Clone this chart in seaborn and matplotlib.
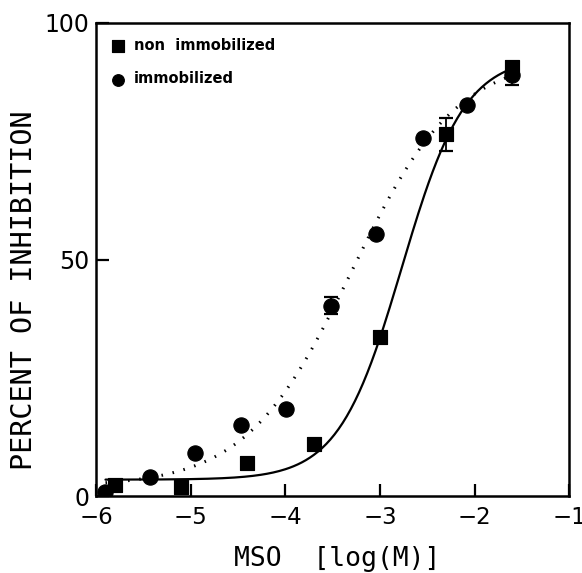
import numpy as np
import pandas as pd
import seaborn as sns
import matplotlib.pyplot as plt

# log concentrations of MSO and percent inhibition
x_non = [-5.8, -5.1, -4.4, -3.7, -3.0, -2.3, -1.6]
y_non = [2.3, 1.9, 7.0, 11.0, 33.6, 76.5, 90.7]
err_non = [0, 0, 0, 0, 0, 3.5, 0.8]

x_imm = [-5.9, -5.43, -4.95, -4.47, -3.99, -3.52, -3.04, -2.55, -2.08, -1.6]
y_imm = [0.8, 4.0, 9.1, 15.0, 18.4, 40.2, 55.4, 75.6, 82.7, 89.0]
err_imm = [0, 0, 0, 0, 0, 1.8, 0, 0, 0, 2.1]

# fitted sigmoid parameters (bottom, top, log IC50, hill slope)
fit_non = (3.5, 93.0, -2.77, 1.3)
fit_imm = (2.0, 93.0, -3.30, 0.78)


def sigmoid(x, p):
    b, t, c, h = p
    return b + (t - b) / (1 + 10 ** ((c - x) * h))


sns.set_theme(style="ticks")
plt.rcParams['font.family'] = ['DejaVu Sans']
plt.rcParams['text.color'] = 'black'
plt.rcParams['axes.labelcolor'] = 'black'
plt.rcParams['xtick.color'] = 'black'
plt.rcParams['ytick.color'] = 'black'

fig = plt.figure(figsize=(5.82, 5.73), dpi=100)
ax = fig.add_axes([0.165, 0.134, 0.813, 0.826])

xs = np.linspace(-5.9, -1.6, 200)
fits = pd.DataFrame({
    'x': np.concatenate([xs, xs]),
    'y': np.concatenate([sigmoid(xs, fit_non), sigmoid(xs, fit_imm)]),
    'group': ['non'] * len(xs) + ['imm'] * len(xs),
})
sns.lineplot(data=fits[fits.group == 'non'], x='x', y='y', ax=ax,
             color='black', lw=1.6, legend=False)
sns.lineplot(data=fits[fits.group == 'imm'], x='x', y='y', ax=ax,
             color='black', lw=2.2, ls=(0, (0.5, 3.2)), legend=False)

ax.errorbar(x_non, y_non, yerr=err_non, fmt='none', ecolor='black',
            elinewidth=1.3, capsize=5, capthick=1.6, zorder=3)
ax.errorbar(x_imm, y_imm, yerr=err_imm, fmt='none', ecolor='black',
            elinewidth=1.3, capsize=5, capthick=1.6, zorder=3)
sns.scatterplot(x=x_non, y=y_non, ax=ax, marker='s', s=110, color='black',
                edgecolor='black', zorder=4, label='non  immobilized')
sns.scatterplot(x=x_imm, y=y_imm, ax=ax, marker='o', s=120, color='black',
                edgecolor='black', zorder=4, label='immobilized')

ax.set_xlim(-6, -1)
ax.set_ylim(0, 100)
ax.set_xticks([-6, -5, -4, -3, -2, -1])
ax.set_yticks([0, 50, 100])
ax.tick_params(direction='in', length=9, width=1.6, color='black')
ax.tick_params(axis='x', labelsize=16.5, pad=7)
ax.tick_params(axis='y', labelsize=17, pad=5)
for s in ax.spines.values():
    s.set_linewidth(1.8)
    s.set_color('black')

ax.set_xlabel('MSO  [log(M)]', family='DejaVu Sans Mono', fontsize=19)
ax.set_ylabel('PERCENT OF INHIBITION', family='DejaVu Sans Mono', fontsize=20.5)
ax.xaxis.set_label_coords(0.51, -0.105)
ax.yaxis.set_label_coords(-0.122, 0.435)

leg = ax.legend(loc='upper left', frameon=False, prop={'weight': 'bold', 'size': 10.5},
                handletextpad=0.6, borderaxespad=0.6, labelspacing=1.3,
                handlelength=1.0)
for h in leg.legend_handles:
    h.set_sizes([70])

fig.savefig('out.png', dpi=100)
